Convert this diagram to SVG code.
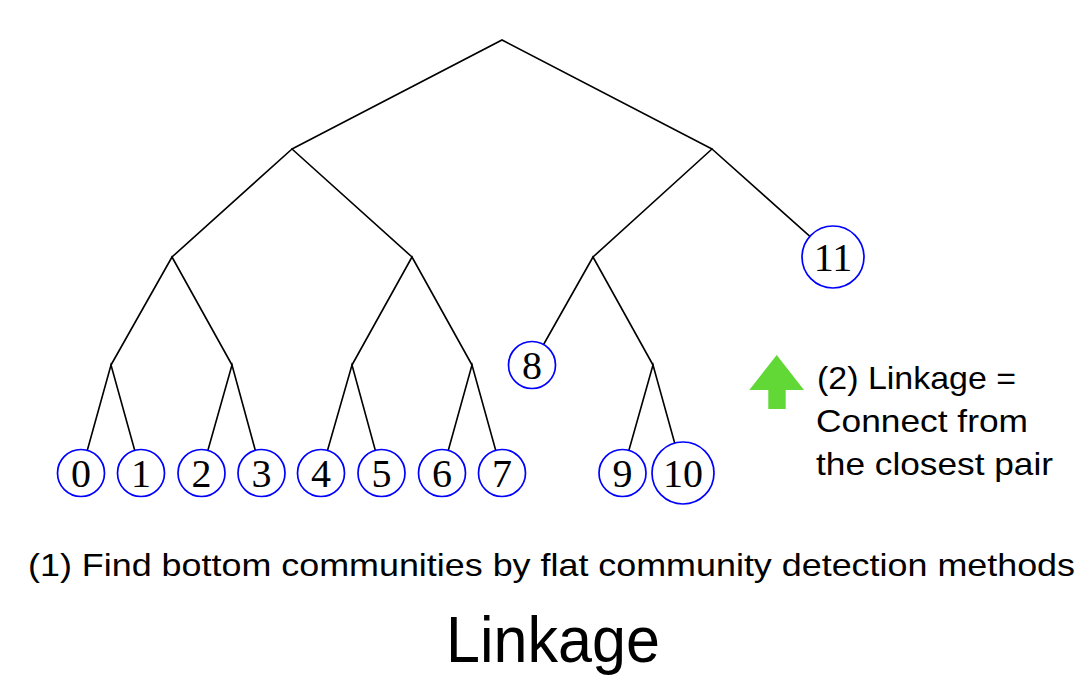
<svg xmlns="http://www.w3.org/2000/svg" width="1082" height="676" viewBox="0 0 1082 676">
<style>
.edge{stroke:#000;stroke-width:1.6;fill:none;stroke-linecap:round}
.node circle{fill:#fff;stroke:#0000ff;stroke-width:1.7}
.node text{font-family:"Liberation Serif","DejaVu Serif",serif;font-size:40px;text-anchor:middle;fill:#000}
.lbl{font-family:"Liberation Sans",Arial,sans-serif;font-size:32px;fill:#000}
</style>
<rect width="1082" height="676" fill="#fff"/>
<g id="connectors">
<path class="edge" d="M292,149 L502,40 L712,149"/>
<path class="edge" d="M172,257 L292,149 L412,257"/>
<path class="edge" d="M593,257 L712,149 L833,257"/>
<path class="edge" d="M111,365 L172,257 L232,365"/>
<path class="edge" d="M352,365 L412,257 L472,365"/>
<path class="edge" d="M532,365 L593,257 L653,365"/>
<path class="edge" d="M81,473 L111,365 L141,473"/>
<path class="edge" d="M201.5,473 L232,365 L261.5,473"/>
<path class="edge" d="M321,473 L352,365 L381.5,473"/>
<path class="edge" d="M442,473 L472,365 L502,473"/>
<path class="edge" d="M622.5,473 L653,365 L683,473"/>
</g>
<g id="n0" class="node"><circle cx="81" cy="473" r="23.5"/><text x="81" y="487">0</text></g>
<g id="n1" class="node"><circle cx="141" cy="473" r="23.5"/><text x="141" y="487">1</text></g>
<g id="n2" class="node"><circle cx="201.5" cy="473" r="23.5"/><text x="201.5" y="487">2</text></g>
<g id="n3" class="node"><circle cx="261.5" cy="473" r="23.5"/><text x="261.5" y="487">3</text></g>
<g id="n4" class="node"><circle cx="321" cy="473" r="23.5"/><text x="321" y="487">4</text></g>
<g id="n5" class="node"><circle cx="381.5" cy="473" r="23.5"/><text x="381.5" y="487">5</text></g>
<g id="n6" class="node"><circle cx="442" cy="473" r="23.5"/><text x="442" y="487">6</text></g>
<g id="n7" class="node"><circle cx="502" cy="473" r="23.5"/><text x="502" y="487">7</text></g>
<g id="n8" class="node"><circle cx="532" cy="365" r="23.5"/><text x="532" y="379">8</text></g>
<g id="n9" class="node"><circle cx="622.5" cy="473" r="23.5"/><text x="622.5" y="487">9</text></g>
<g id="n10" class="node"><circle cx="683" cy="473" r="31"/><text x="683" y="487">10</text></g>
<g id="n11" class="node"><circle cx="833" cy="257" r="31"/><text x="833" y="271">11</text></g>
<g id="linkage-note">
<polygon points="776.7,355 804,390 785.7,390 785.7,409 768.3,409 768.3,390 749.3,390" fill="#61d836"/>
<text class="lbl" x="817" y="389" textLength="199" lengthAdjust="spacingAndGlyphs">(2) Linkage =</text>
<text class="lbl" x="816" y="432" textLength="212" lengthAdjust="spacingAndGlyphs">Connect from</text>
<text class="lbl" x="816" y="475" textLength="237" lengthAdjust="spacingAndGlyphs">the closest pair</text>
</g>
<text class="lbl" x="28" y="576" textLength="1047" lengthAdjust="spacingAndGlyphs">(1) Find bottom communities by flat community detection methods</text>
<text x="446" y="662" font-family="Liberation Sans, Arial, sans-serif" font-size="64" textLength="214" lengthAdjust="spacingAndGlyphs" fill="#000">Linkage</text>
</svg>
